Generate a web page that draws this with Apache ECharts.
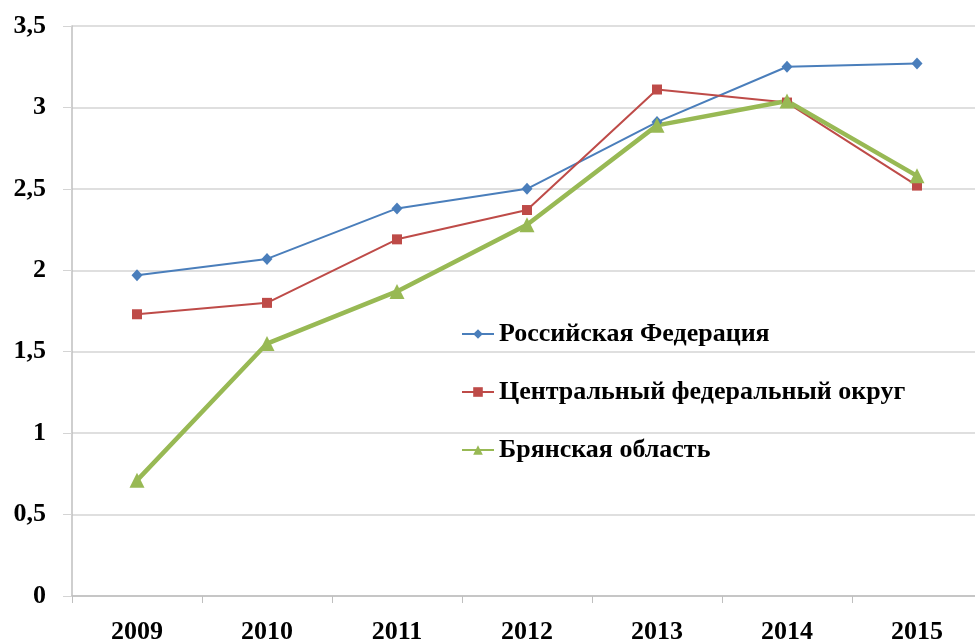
<!DOCTYPE html>
<html>
<head>
<meta charset="utf-8">
<script src="https://cdn.jsdelivr.net/npm/echarts@6/dist/echarts.min.js"></script>
<style>
  html, body { margin: 0; padding: 0; background: #fff; }
  #main { width: 975px; height: 644px; }
</style>
</head>
<body>
<div id="main"></div>
<script>
// data
var years = ['2009', '2010', '2011', '2012', '2013', '2014', '2015'];
var rfValues = [1.97, 2.07, 2.38, 2.50, 2.91, 3.25, 3.27];
var cfoValues = [1.73, 1.80, 2.19, 2.37, 3.11, 3.03, 2.52];
var bryanskValues = [0.71, 1.55, 1.87, 2.28, 2.89, 3.04, 2.58];
var seriesNames = ['Российская Федерация', 'Центральный федеральный округ', 'Брянская область'];

var font = '"Liberation Serif", "Times New Roman", serif';

var chart = echarts.init(document.getElementById('main'));
var option = {
  backgroundColor: '#fff',
  animation: false,
  grid: {
    left: 72,
    right: -7,
    top: 26,
    bottom: 48,
    outerBoundsMode: 'none'
  },
  legend: {
    orient: 'vertical',
    left: 456,
    top: 316,
    itemGap: 32,
    itemWidth: 32,
    itemHeight: 12,
    textStyle: {
      fontFamily: font,
      fontWeight: 'bold',
      fontSize: 26,
      color: '#000'
    },
    data: seriesNames
  },
  xAxis: {
    type: 'category',
    data: years,
    boundaryGap: true,
    axisLine: { lineStyle: { color: '#bfbfbf', width: 1.5 } },
    axisTick: { show: true, length: 7, lineStyle: { color: '#bfbfbf' } },
    axisLabel: {
      margin: 23,
      fontFamily: font,
      fontWeight: 'bold',
      fontSize: 26,
      color: '#000'
    }
  },
  yAxis: {
    type: 'value',
    min: 0,
    max: 3.5,
    interval: 0.5,
    axisLine: { show: true, lineStyle: { color: '#bfbfbf', width: 1.5 } },
    axisTick: { show: true, length: 9, lineStyle: { color: '#d4d4d4' } },
    splitLine: { lineStyle: { color: '#d4d4d4', width: 1.5 } },
    axisLabel: {
      margin: 26,
      fontFamily: font,
      fontWeight: 'bold',
      fontSize: 26,
      color: '#000',
      padding: [4, 0, 0, 0],
      formatter: function (v) { return String(v).replace('.', ','); }
    }
  },
  series: [
    {
      name: seriesNames[0],
      type: 'line',
      data: rfValues,
      symbol: 'diamond',
      symbolSize: [11, 12],
      showAllSymbol: true,
      color: '#4a7ebb',
      lineStyle: { color: '#4a7ebb', width: 2 },
      itemStyle: { color: '#4a7ebb' }
    },
    {
      name: seriesNames[1],
      type: 'line',
      data: cfoValues,
      symbol: 'rect',
      symbolSize: 10,
      color: '#be4b48',
      lineStyle: { color: '#be4b48', width: 2 },
      itemStyle: { color: '#be4b48' }
    },
    {
      name: seriesNames[2],
      type: 'line',
      data: bryanskValues,
      symbol: 'triangle',
      symbolSize: 15,
      color: '#98b954',
      lineStyle: { color: '#98b954', width: 4.5 },
      itemStyle: { color: '#98b954' }
    }
  ]
};
chart.setOption(option);
</script>
</body>
</html>
